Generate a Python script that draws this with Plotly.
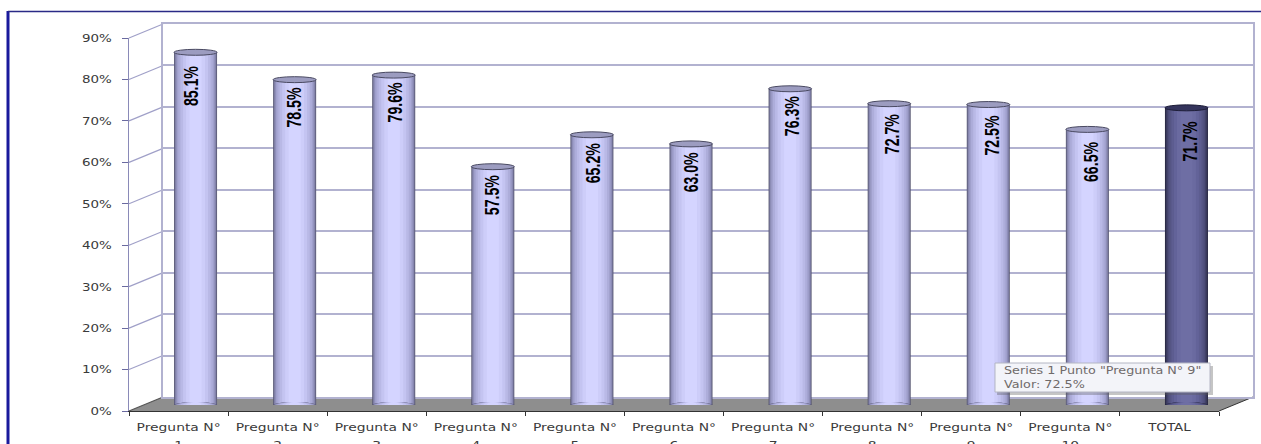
import plotly.graph_objects as go

categories = ["Pregunta N°<br>1", "Pregunta N°<br>2", "Pregunta N°<br>3", "Pregunta N°<br>4",
              "Pregunta N°<br>5", "Pregunta N°<br>6", "Pregunta N°<br>7", "Pregunta N°<br>8",
              "Pregunta N°<br>9", "Pregunta N°<br>10", "TOTAL"]
values = [85.1, 78.5, 79.6, 57.5, 65.2, 63.0, 76.3, 72.7, 72.5, 66.5, 71.7]
labels = ["85.1%", "78.5%", "79.6%", "57.5%", "65.2%", "63.0%", "76.3%", "72.7%", "72.5%", "66.5%", "71.7%"]
y_ticks = [0, 10, 20, 30, 40, 50, 60, 70, 80, 90]
y_tick_text = ["0%", "10%", "20%", "30%", "40%", "50%", "60%", "70%", "80%", "90%"]
tooltip = 'Series 1 Punto "Pregunta N° 9"<br>Valor: 72.5%'
# style: nudges of each value label, in pixels
label_dx = [-5, -1, 0.4, -1.6, 1.3, 0.2, 2.1, 2.1, 3.5, 3, 3]
label_dy = [-34, -28, -27, -28, -28, -28, -27, -30, -31, -32, -33]

W, H = 1261, 444
def px(x): return x / W
def py(y): return 1 - y / H

# style: cylinder shading, outermost to innermost (width fraction, normal colour, total colour)
layers = [(1.00, "#55556f", "#26263f"), (0.97, "#77779b", "#343455"), (0.93, "#8e8eb8", "#414167"),
          (0.87, "#a0a0cc", "#4c4c78"), (0.80, "#adadda", "#555584"), (0.70, "#b9b9e6", "#5d5d90"),
          (0.58, "#c4c4f1", "#636399"), (0.44, "#cdcdf9", "#6a6aa0"), (0.28, "#d4d4ff", "#6e6ea4")]
BAR_W = 0.434
RY = 0.72
n = len(categories)
last = n - 1

fig = go.Figure()
fig.add_trace(go.Scatter(x=categories, y=values, mode="none", xaxis="x", yaxis="y", hoverinfo="skip", showlegend=False))
fig.add_trace(go.Scatter(x=categories, y=values, mode="none", xaxis="x2", yaxis="y2", hoverinfo="skip", showlegend=False))
for f, c, d in layers:
    fig.add_trace(go.Bar(x=categories, y=values, width=BAR_W * f, xaxis="x3", yaxis="y3",
                         marker=dict(color=[c] * last + [d], line=dict(width=0)),
                         hoverinfo="skip", showlegend=False))

shapes = []
shapes.append(dict(type="path", xref="paper", yref="paper", layer="below", line=dict(width=0), fillcolor="#8e8e8e",
                   path=f"M {px(129)} {py(411)} L {px(163)} {py(397)} L {px(1253)} {py(397)} L {px(1219)} {py(411)} Z"))
for t in y_ticks:
    yf = 411 - t * 373 / 90
    shapes.append(dict(type="line", xref="paper", yref="paper", layer="below",
                       x0=px(129), x1=px(163), y0=py(yf), y1=py(yf - 14),
                       line=dict(color="#a0a0c8" if t else "#555555", width=1.2)))
for i, v in enumerate(values):
    for f, c, d in layers:
        col = d if i == last else c
        shapes.append(dict(type="circle", xref="x3", yref="y3", layer="above", line=dict(width=0), fillcolor=col,
                           x0=i - BAR_W * f / 2, x1=i + BAR_W * f / 2, y0=-RY, y1=RY))
    top = "#34345c" if i == last else "#9c9cc0"
    edge = "#1e1e38" if i == last else "#4a4a62"
    shapes.append(dict(type="circle", xref="x3", yref="y3", layer="above", fillcolor=top, line=dict(color=edge, width=1),
                       x0=i - BAR_W / 2, x1=i + BAR_W / 2, y0=v - RY, y1=v + RY))
shapes.append(dict(type="line", xref="paper", yref="paper", x0=px(8), x1=px(8), y0=py(11), y1=0, layer="below",
                   line=dict(color="#1a1a9c", width=3)))
shapes.append(dict(type="line", xref="paper", yref="paper", x0=px(8), x1=1, y0=py(11.5), y1=py(11.5), layer="below",
                   line=dict(color="#2a2a86", width=1.5)))
shapes.append(dict(type="line", xref="paper", yref="paper", x0=px(1219), x1=px(1253), y0=py(411), y1=py(397),
                   layer="below", line=dict(color="#333333", width=1)))
shapes.append(dict(type="rect", xref="paper", yref="paper", layer="above", line=dict(width=0), fillcolor="rgba(90,90,90,0.35)",
                   x0=px(997), x1=px(1213), y0=py(395), y1=py(366)))
shapes.append(dict(type="rect", xref="paper", yref="paper", layer="above", fillcolor="#f3f4f9",
                   line=dict(color="#b4b6c4", width=1), x0=px(995), x1=px(1210), y0=py(392), y1=py(363)))

annotations = []
for i, (v, lab) in enumerate(zip(values, labels)):
    annotations.append(dict(x=i, y=v, xref="x3", yref="y3", text=lab, showarrow=False, textangle=-90,
                            yshift=label_dy[i], xshift=label_dx[i],
                            font=dict(family="Liberation Sans", size=21, color="#000000", weight="bold")))
annotations.append(dict(x=px(1002), y=py(377), xref="paper", yref="paper", xanchor="left", yanchor="middle", text=tooltip,
                        showarrow=False, align="left",
                        font=dict(family="DejaVu Sans", size=11, color="#6f6a6a")))

tick_font = dict(family="DejaVu Sans", size=11, color="#3a3a3a")
wall_line = "#b2b2d0"
fig.update_layout(
    width=W, height=H, autosize=False, margin=dict(l=0, r=0, t=0, b=0, autoexpand=False),
    paper_bgcolor="#ffffff", plot_bgcolor="rgba(0,0,0,0)",
    barmode="overlay", showlegend=False, shapes=shapes, annotations=annotations,
    xaxis=dict(domain=[px(163), px(1253)], range=[-0.5, 10.5], showgrid=False, showticklabels=False, ticks="",
               showline=True, mirror=True, linecolor=wall_line, linewidth=2, zeroline=False, fixedrange=True),
    yaxis=dict(domain=[py(397), py(24)], range=[0, 90], tickvals=y_ticks, showticklabels=False, ticks="",
               showgrid=True, gridcolor=wall_line, gridwidth=1.5, zeroline=False, anchor="x",
               showline=True, mirror=True, linecolor=wall_line, linewidth=2, fixedrange=True),
    xaxis2=dict(domain=[px(129), px(1219)], range=[-0.5, 10.5], anchor="y2", showgrid=False, zeroline=False,
                tickson="boundaries", ticks="outside", ticklen=4, tickcolor="#333333", showline=True,
                linecolor="#333333", linewidth=1, tickfont=tick_font, tickangle=0, ticklabelstandoff=6, fixedrange=True),
    yaxis2=dict(domain=[py(411), py(38)], range=[0, 90], anchor="x2", tickvals=y_ticks, ticktext=y_tick_text, showgrid=False,
                zeroline=False, ticks="outside", ticklen=6, tickcolor="#6a6aa0", showline=True, linecolor="#8a8ab8",
                linewidth=1, tickfont=tick_font, ticklabelstandoff=8, fixedrange=True),
    xaxis3=dict(domain=[px(146), px(1236)], range=[-0.5, 10.5], anchor="y3", visible=False, fixedrange=True),
    yaxis3=dict(domain=[py(405), py(32)], range=[0, 90], anchor="x3", visible=False, fixedrange=True),
)

post = """
document.body.style.margin='0';document.body.style.overflow='hidden';
function fit(el,len){el.setAttribute('lengthAdjust','spacingAndGlyphs');el.setAttribute('textLength',len);}
document.querySelectorAll('.x2tick text,.y2tick text').forEach(function(t){
  var sp=t.querySelectorAll('tspan');
  if(sp.length){sp.forEach(function(l,k){fit(l,l.getComputedTextLength()*1.26);
    if(k==1){l.setAttribute('y',parseFloat(l.getAttribute('y'))+3);}});}
  else{fit(t,t.getComputedTextLength()*1.22);}
});
document.querySelectorAll('.annotation-text').forEach(function(t){
  if(t.textContent.length==5){fit(t,40);}
  else{t.querySelectorAll('tspan').forEach(function(l){fit(l,l.getComputedTextLength()*1.16);});}
});
"""
fig.write_html("out.html", config={"displayModeBar": False}, post_script=post)
